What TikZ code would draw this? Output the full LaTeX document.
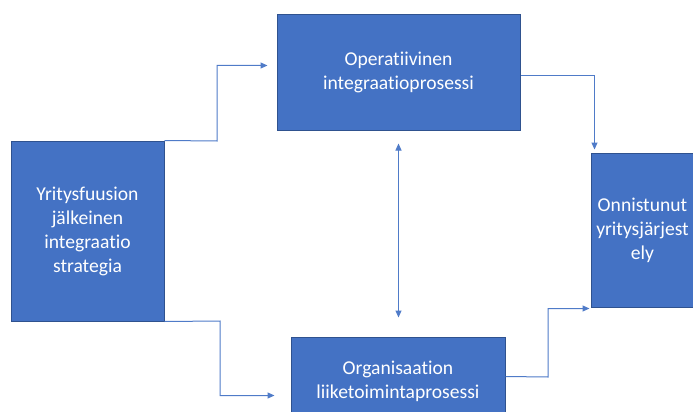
\documentclass[tikz,border=0pt]{standalone}
\usepackage{fontspec}
\setmainfont{Carlito}[Ligatures=NoCommon]
\usetikzlibrary{arrows.meta,calc}
\definecolor{boxfill}{HTML}{4472C4}
\definecolor{boxline}{HTML}{2F528F}
\definecolor{linkcol}{HTML}{4F7BC8}
\tikzset{
  block/.style={rectangle, fill=boxfill, draw=boxline, line width=1pt,
    text=white, align=center, inner sep=0pt,
    font=\fontsize{19.6}{24}\selectfont},
  conn/.style={draw=linkcol, line width=1pt,
    -{Triangle[length=7pt,width=6pt]}},
  biconn/.style={draw=linkcol, line width=1pt,
    {Triangle[length=7pt,width=6pt]}-{Triangle[length=7pt,width=6pt]}}
}
\begin{document}
\begin{tikzpicture}[x=1pt,y=-1pt]
  \useasboundingbox (0,0) rectangle (693,412);
  \clip (0,0) rectangle (693,412);

  % the four stages
  \node[block, minimum width=153pt, minimum height=180pt] (L) at (87.5,231)
    {Yritysfuusion\\jälkeinen\\integraatio\\strategia};
  \node[block, minimum width=243pt, minimum height=115pt] (T) at (398.5,72.5)
    {Operatiivinen\\integraatioprosessi};
  \node[block, minimum width=214pt, minimum height=88pt] (B) at (398,381)
    {Organisaation\\liiketoimintaprosessi};
  \node[block, minimum width=103pt, minimum height=154pt] (R) at (642.5,230)
    {Onnistunut\\yritysjärjest\\ely};

  % routing points
  \coordinate (tin)  at ($(T.north west)+(0,51)$);
  \coordinate (tout) at ($(T.north east)+(0,61)$);
  \coordinate (rin)  at ($(R.north west)+(4,0)$);
  \coordinate (bin)  at ($(B.north west)+(0,59)$);
  \coordinate (bout) at ($(B.north east)+(0,40)$);
  \coordinate (rin2) at ($(R.south west)+(0,1)$);

  % connectors
  \draw[conn, shorten >=9pt] (L.north east) -- (217,141) |- (tin);
  \draw[conn, shorten >=3pt] (tout) -| (rin);
  \draw[biconn, shorten <=13pt, shorten >=19pt] (T.south) -- (T.south |- B.north);
  \draw[conn, shorten >=16pt] (L.south east) -- (220,321) |- (bin);
  \draw[conn, shorten >=1pt] (bout) -- (548,377) |- (rin2);
\end{tikzpicture}
\end{document}
